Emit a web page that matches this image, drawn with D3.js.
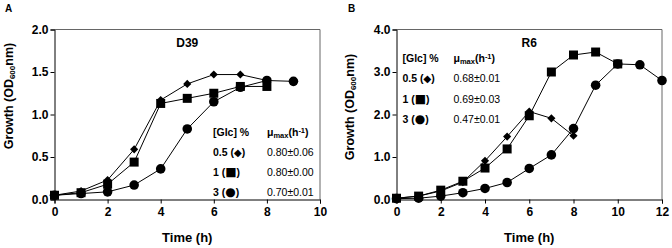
<!DOCTYPE html>
<html>
<head>
<meta charset="utf-8">
<script src="https://cdn.jsdelivr.net/npm/d3@7"></script>
<style>
  body { margin: 0; background: #fff; }
  svg { font-family: "Liberation Sans", Arial, sans-serif; }
</style>
</head>
<body>
<div id="chart"></div>
<script>
// Panel A - D39
const timeA = [0, 1, 2, 3, 4, 5, 6, 7, 8, 9];
const a05 = [0.05, 0.1, 0.23, 0.59, 1.17, 1.36, 1.47, 1.47, 1.40];
const a1 = [0.05, 0.08, 0.18, 0.44, 1.13, 1.19, 1.25, 1.33, 1.33];
const a3 = [0.05, 0.07, 0.09, 0.17, 0.36, 0.83, 1.15, 1.32, 1.40, 1.39];
const yTicksA = [0, 0.5, 1.0, 1.5, 2.0];
const xTicksA = [0, 2, 4, 6, 8, 10];
const muA = ['0.80±0.06', '0.80±0.00', '0.70±0.01'];

// Panel B - R6
const timeB = [0, 1, 2, 3, 4, 5, 6, 7, 8, 9, 10, 11, 12];
const b05 = [0.03, 0.08, 0.2, 0.41, 0.91, 1.48, 2.07, 1.91, 1.5];
const b1 = [0.03, 0.08, 0.22, 0.43, 0.74, 1.19, 1.97, 3.0, 3.4, 3.47, 3.19];
const b3 = [0.02, 0.03, 0.08, 0.16, 0.26, 0.4, 0.73, 1.05, 1.67, 2.69, 3.19, 3.17, 2.8];
const yTicksB = [0, 1.0, 2.0, 3.0, 4.0];
const xTicksB = [0, 2, 4, 6, 8, 10, 12];
const muB = ['0.68±0.01', '0.69±0.03', '0.47±0.01'];

const glcLevels = ['0.5', '1', '3'];
const glcSymbols = ['◆', '■', '●'];

const svg = d3.select('#chart').append('svg')
    .attr('width', 672)
    .attr('height', 248);

function drawPanel(p) {
    const x = d3.scaleLinear().domain(p.xDomain).range([p.left, p.right]);
    const y = d3.scaleLinear().domain(p.yDomain).range([199.5, 29.5]);
    const g = svg.append('g');

    // frame (top / right)
    g.append('path')
        .attr('d', `M${p.left},29.5H${p.right}V199.5`)
        .attr('fill', 'none')
        .attr('stroke', '#666')
        .attr('stroke-width', 1);

    const yAxis = g.append('g')
        .attr('transform', `translate(${p.left},0)`)
        .call(d3.axisLeft(y).tickValues(p.yTicks).tickSize(4).tickPadding(2).tickFormat(d3.format('.1f')));
    const xAxis = g.append('g')
        .attr('transform', 'translate(0,199.5)')
        .call(d3.axisBottom(x).tickValues(p.xTicks).tickSize(4).tickPadding(4).tickFormat(d3.format('d')));
    [xAxis, yAxis].forEach(ax => {
        ax.select('.domain').attr('stroke', '#000');
        ax.selectAll('.tick line').attr('stroke', '#000');
        ax.selectAll('text')
            .attr('fill', '#000')
            .style('font-size', '12px')
            .style('font-weight', 'bold')
            .style('font-family', '"Liberation Sans", Arial, sans-serif');
    });

    // panel letter
    g.append('text')
        .attr('x', p.letterX).attr('y', 12)
        .style('font-size', '10px').style('font-weight', 'bold')
        .text(p.letter);

    // strain name
    g.append('text')
        .attr('x', (p.left + p.right) / 2).attr('y', 47)
        .attr('text-anchor', 'middle')
        .style('font-size', '12px').style('font-weight', 'bold')
        .text(p.title);

    // axis titles
    g.append('text')
        .attr('x', (p.left + p.right) / 2).attr('y', 242)
        .attr('text-anchor', 'middle')
        .style('font-size', '13px').style('font-weight', 'bold')
        .text('Time (h)');

    const yt = g.append('text')
        .attr('transform', `translate(${p.yTitleX},${p.yTitleY}) rotate(-90)`)
        .attr('text-anchor', 'middle')
        .style('font-size', '12.5px').style('font-weight', 'bold');
    yt.append('tspan').text('Growth (OD');
    yt.append('tspan').attr('baseline-shift', '-25%').style('font-size', '8px').text('600');
    yt.append('tspan').text('nm)');

    // series
    const line = d3.line().x((d, i) => x(p.time[i])).y(d => y(d));
    p.series.forEach(s => {
        g.append('path')
            .datum(s.values)
            .attr('fill', 'none')
            .attr('stroke', '#000')
            .attr('stroke-width', 1)
            .attr('d', line);
    });
    p.series.forEach(s => {
        g.selectAll(null)
            .data(s.values)
            .enter()
            .append('path')
            .attr('transform', (d, i) => `translate(${x(p.time[i])},${y(d)})`)
            .attr('d', d3.symbol().type(s.symbol).size(s.size))
            .attr('fill', '#000');
    });

    // legend
    const lg = g.append('g').attr('transform', `translate(${p.legX},${p.legY})`);
    lg.append('text')
        .attr('x', 0).attr('y', 4)
        .style('font-size', '10.5px').style('font-weight', 'bold')
        .text('[Glc] %');
    const mu = lg.append('text')
        .attr('x', p.legGap).attr('y', 4)
        .style('font-size', '10.5px').style('font-weight', 'bold');
    mu.append('tspan').text('μ');
    mu.append('tspan').attr('baseline-shift', '-25%').style('font-size', '7.5px').text('max');
    mu.append('tspan').text('(h');
    mu.append('tspan').attr('baseline-shift', '40%').style('font-size', '7.5px').text('-1');
    mu.append('tspan').text(')');

    glcLevels.forEach((lvl, i) => {
        const t = lg.append('text')
            .attr('x', 0).attr('y', 4 + p.legStep * (i + 1))
            .style('font-size', '10.5px').style('font-weight', 'bold');
        t.append('tspan').text(lvl + ' (');
        t.append('tspan')
            .style('font-family', '"DejaVu Sans", sans-serif')
            .style('font-size', i === 0 ? '10px' : '12px')
            .text(glcSymbols[i]);
        t.append('tspan').text(')');
        lg.append('text')
            .attr('x', p.legGap).attr('y', 4 + p.legStep * (i + 1))
            .style('font-size', '10.5px')
            .text(p.mu[i]);
    });
}

drawPanel({
    letter: 'A', letterX: 5, title: 'D39',
    left: 54.5, right: 320, xDomain: [0, 10], yDomain: [0, 2],
    xTicks: xTicksA, yTicks: yTicksA, time: timeA,
    series: [
        {values: a05, symbol: d3.symbolDiamond2, size: 42},
        {values: a1, symbol: d3.symbolSquare, size: 81},
        {values: a3, symbol: d3.symbolCircle, size: 72}
    ],
    yTitleX: 13, yTitleY: 96,
    legX: 213, legY: 131.5, legStep: 20, legGap: 54, mu: muA
});

drawPanel({
    letter: 'B', letterX: 348, title: 'R6',
    left: 396.5, right: 662, xDomain: [0, 12], yDomain: [0, 4],
    xTicks: xTicksB, yTicks: yTicksB, time: timeB,
    series: [
        {values: b05, symbol: d3.symbolDiamond2, size: 42},
        {values: b1, symbol: d3.symbolSquare, size: 81},
        {values: b3, symbol: d3.symbolCircle, size: 72}
    ],
    yTitleX: 354, yTitleY: 107,
    legX: 402.5, legY: 57.5, legStep: 20.5, legGap: 51, mu: muB
});
</script>
</body>
</html>
